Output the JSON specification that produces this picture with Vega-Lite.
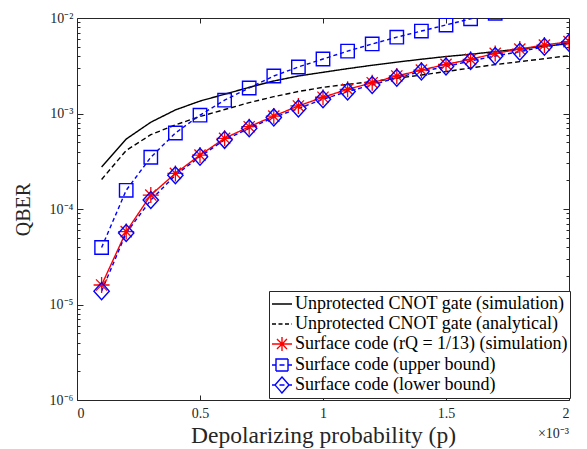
{
  "$schema": "https://vega.github.io/schema/vega-lite/v6.json",
  "width": 492,
  "height": 382,
  "autosize": "none",
  "padding": {"left": 77, "top": 18, "right": 18, "bottom": 49},
  "background": "white",
  "config": {
    "font": "Liberation Serif",
    "view": {"stroke": "#262626", "strokeWidth": 1},
    "axis": {
      "domain": false, "grid": false, "tickColor": "#262626", "tickWidth": 1,
      "labelColor": "#262626", "titleColor": "#262626", "labelFont": "Liberation Serif",
      "titleFont": "Liberation Serif", "labelFontSize": 14, "titleFontWeight": "normal"
    },
    "legend": {
      "orient": "none", "legendX": 192, "legendY": 273,
      "strokeColor": "#262626", "fillColor": "white", "padding": 2,
      "labelFont": "Liberation Serif", "labelFontSize": 18, "labelColor": "black",
      "symbolSize": 400, "symbolStrokeWidth": 1.4, "rowPadding": 0, "labelOffset": 2, "labelLimit": 400
    }
  },
  "datasets": {
    "curves": [
      {"series": "Unprotected CNOT gate (simulation)", "p": 0.0001, "qber": 0.000275},
      {"series": "Unprotected CNOT gate (simulation)", "p": 0.0002, "qber": 0.00054},
      {"series": "Unprotected CNOT gate (simulation)", "p": 0.0003, "qber": 0.00081},
      {"series": "Unprotected CNOT gate (simulation)", "p": 0.0004, "qber": 0.00109},
      {"series": "Unprotected CNOT gate (simulation)", "p": 0.0005, "qber": 0.00135},
      {"series": "Unprotected CNOT gate (simulation)", "p": 0.0006, "qber": 0.00159},
      {"series": "Unprotected CNOT gate (simulation)", "p": 0.0007, "qber": 0.00188},
      {"series": "Unprotected CNOT gate (simulation)", "p": 0.0008, "qber": 0.00219},
      {"series": "Unprotected CNOT gate (simulation)", "p": 0.0009, "qber": 0.00247},
      {"series": "Unprotected CNOT gate (simulation)", "p": 0.0010, "qber": 0.0027},
      {"series": "Unprotected CNOT gate (simulation)", "p": 0.0011, "qber": 0.00295},
      {"series": "Unprotected CNOT gate (simulation)", "p": 0.0012, "qber": 0.0032},
      {"series": "Unprotected CNOT gate (simulation)", "p": 0.0013, "qber": 0.00345},
      {"series": "Unprotected CNOT gate (simulation)", "p": 0.0014, "qber": 0.0037},
      {"series": "Unprotected CNOT gate (simulation)", "p": 0.0015, "qber": 0.00395},
      {"series": "Unprotected CNOT gate (simulation)", "p": 0.0016, "qber": 0.00417},
      {"series": "Unprotected CNOT gate (simulation)", "p": 0.0017, "qber": 0.00445},
      {"series": "Unprotected CNOT gate (simulation)", "p": 0.0018, "qber": 0.00473},
      {"series": "Unprotected CNOT gate (simulation)", "p": 0.0019, "qber": 0.00505},
      {"series": "Unprotected CNOT gate (simulation)", "p": 0.0020, "qber": 0.0054},
      {"series": "Unprotected CNOT gate (analytical)", "p": 0.0001, "qber": 0.000204},
      {"series": "Unprotected CNOT gate (analytical)", "p": 0.0002, "qber": 0.00041},
      {"series": "Unprotected CNOT gate (analytical)", "p": 0.0003, "qber": 0.0006},
      {"series": "Unprotected CNOT gate (analytical)", "p": 0.0004, "qber": 0.00076},
      {"series": "Unprotected CNOT gate (analytical)", "p": 0.0005, "qber": 0.00093},
      {"series": "Unprotected CNOT gate (analytical)", "p": 0.0006, "qber": 0.0011},
      {"series": "Unprotected CNOT gate (analytical)", "p": 0.0007, "qber": 0.0013},
      {"series": "Unprotected CNOT gate (analytical)", "p": 0.0008, "qber": 0.0015},
      {"series": "Unprotected CNOT gate (analytical)", "p": 0.0009, "qber": 0.0017},
      {"series": "Unprotected CNOT gate (analytical)", "p": 0.0010, "qber": 0.00188},
      {"series": "Unprotected CNOT gate (analytical)", "p": 0.0011, "qber": 0.00202},
      {"series": "Unprotected CNOT gate (analytical)", "p": 0.0012, "qber": 0.00216},
      {"series": "Unprotected CNOT gate (analytical)", "p": 0.0013, "qber": 0.00234},
      {"series": "Unprotected CNOT gate (analytical)", "p": 0.0014, "qber": 0.00253},
      {"series": "Unprotected CNOT gate (analytical)", "p": 0.0015, "qber": 0.00275},
      {"series": "Unprotected CNOT gate (analytical)", "p": 0.0016, "qber": 0.003},
      {"series": "Unprotected CNOT gate (analytical)", "p": 0.0017, "qber": 0.00325},
      {"series": "Unprotected CNOT gate (analytical)", "p": 0.0018, "qber": 0.00349},
      {"series": "Unprotected CNOT gate (analytical)", "p": 0.0019, "qber": 0.00375},
      {"series": "Unprotected CNOT gate (analytical)", "p": 0.0020, "qber": 0.00403},
      {"series": "Surface code (rQ = 1/13) (simulation)", "p": 0.0001, "qber": 0.000016},
      {"series": "Surface code (rQ = 1/13) (simulation)", "p": 0.0002, "qber": 0.000058},
      {"series": "Surface code (rQ = 1/13) (simulation)", "p": 0.0003, "qber": 0.00014},
      {"series": "Surface code (rQ = 1/13) (simulation)", "p": 0.0004, "qber": 0.000236},
      {"series": "Surface code (rQ = 1/13) (simulation)", "p": 0.0005, "qber": 0.000367},
      {"series": "Surface code (rQ = 1/13) (simulation)", "p": 0.0006, "qber": 0.00055},
      {"series": "Surface code (rQ = 1/13) (simulation)", "p": 0.0007, "qber": 0.000727},
      {"series": "Surface code (rQ = 1/13) (simulation)", "p": 0.0008, "qber": 0.00094},
      {"series": "Surface code (rQ = 1/13) (simulation)", "p": 0.0009, "qber": 0.0012},
      {"series": "Surface code (rQ = 1/13) (simulation)", "p": 0.0010, "qber": 0.00148},
      {"series": "Surface code (rQ = 1/13) (simulation)", "p": 0.0011, "qber": 0.00179},
      {"series": "Surface code (rQ = 1/13) (simulation)", "p": 0.0012, "qber": 0.0021},
      {"series": "Surface code (rQ = 1/13) (simulation)", "p": 0.0013, "qber": 0.00247},
      {"series": "Surface code (rQ = 1/13) (simulation)", "p": 0.0014, "qber": 0.00285},
      {"series": "Surface code (rQ = 1/13) (simulation)", "p": 0.0015, "qber": 0.00327},
      {"series": "Surface code (rQ = 1/13) (simulation)", "p": 0.0016, "qber": 0.00369},
      {"series": "Surface code (rQ = 1/13) (simulation)", "p": 0.0017, "qber": 0.00426},
      {"series": "Surface code (rQ = 1/13) (simulation)", "p": 0.0018, "qber": 0.00473},
      {"series": "Surface code (rQ = 1/13) (simulation)", "p": 0.0019, "qber": 0.00521},
      {"series": "Surface code (rQ = 1/13) (simulation)", "p": 0.0020, "qber": 0.00565},
      {"series": "Surface code (upper bound)", "p": 0.0001, "qber": 0.0000395},
      {"series": "Surface code (upper bound)", "p": 0.0002, "qber": 0.000157},
      {"series": "Surface code (upper bound)", "p": 0.0003, "qber": 0.000348},
      {"series": "Surface code (upper bound)", "p": 0.0004, "qber": 0.000625},
      {"series": "Surface code (upper bound)", "p": 0.0005, "qber": 0.00096},
      {"series": "Surface code (upper bound)", "p": 0.0006, "qber": 0.00138},
      {"series": "Surface code (upper bound)", "p": 0.0007, "qber": 0.00185},
      {"series": "Surface code (upper bound)", "p": 0.0008, "qber": 0.00247},
      {"series": "Surface code (upper bound)", "p": 0.0009, "qber": 0.00307},
      {"series": "Surface code (upper bound)", "p": 0.0010, "qber": 0.00372},
      {"series": "Surface code (upper bound)", "p": 0.0011, "qber": 0.0045},
      {"series": "Surface code (upper bound)", "p": 0.0012, "qber": 0.00535},
      {"series": "Surface code (upper bound)", "p": 0.0013, "qber": 0.0063},
      {"series": "Surface code (upper bound)", "p": 0.0014, "qber": 0.0073},
      {"series": "Surface code (upper bound)", "p": 0.0015, "qber": 0.00845},
      {"series": "Surface code (upper bound)", "p": 0.0016, "qber": 0.0098},
      {"series": "Surface code (upper bound)", "p": 0.0017, "qber": 0.0112},
      {"series": "Surface code (lower bound)", "p": 0.0001, "qber": 0.0000138},
      {"series": "Surface code (lower bound)", "p": 0.0002, "qber": 0.000056},
      {"series": "Surface code (lower bound)", "p": 0.0003, "qber": 0.000124},
      {"series": "Surface code (lower bound)", "p": 0.0004, "qber": 0.000226},
      {"series": "Surface code (lower bound)", "p": 0.0005, "qber": 0.000353},
      {"series": "Surface code (lower bound)", "p": 0.0006, "qber": 0.00053},
      {"series": "Surface code (lower bound)", "p": 0.0007, "qber": 0.0007},
      {"series": "Surface code (lower bound)", "p": 0.0008, "qber": 0.00091},
      {"series": "Surface code (lower bound)", "p": 0.0009, "qber": 0.00113},
      {"series": "Surface code (lower bound)", "p": 0.0010, "qber": 0.00141},
      {"series": "Surface code (lower bound)", "p": 0.0011, "qber": 0.0017},
      {"series": "Surface code (lower bound)", "p": 0.0012, "qber": 0.00199},
      {"series": "Surface code (lower bound)", "p": 0.0013, "qber": 0.00237},
      {"series": "Surface code (lower bound)", "p": 0.0014, "qber": 0.00275},
      {"series": "Surface code (lower bound)", "p": 0.0015, "qber": 0.0031},
      {"series": "Surface code (lower bound)", "p": 0.0016, "qber": 0.00355},
      {"series": "Surface code (lower bound)", "p": 0.0017, "qber": 0.004},
      {"series": "Surface code (lower bound)", "p": 0.0018, "qber": 0.00444},
      {"series": "Surface code (lower bound)", "p": 0.0019, "qber": 0.005},
      {"series": "Surface code (lower bound)", "p": 0.0020, "qber": 0.0055}
    ]
  },
  "data": {"name": "curves"},
  "resolve": {"axis": {"x": "independent", "y": "independent"}},
  "layer": [
    {
      "mark": {"type": "line", "clip": true, "strokeWidth": 1.4},
      "encoding": {
        "x": {"field": "p", "type": "quantitative",
          "scale": {"domain": [0, 0.002], "nice": false, "zero": false},
          "axis": {"orient": "bottom", "values": [0, 0.0005, 0.001, 0.0015, 0.002],
            "labelExpr": "format(datum.value * 1000, '~g')", "tickSize": -5, "labelPadding": 11,
            "title": "Depolarizing probability (p)", "titleFontSize": 23.5, "titlePadding": 3}},
        "y": {"field": "qber", "type": "quantitative",
          "scale": {"type": "log", "domain": [0.000001, 0.01], "nice": false},
          "axis": {"orient": "left", "values": [0.000001, 0.00001, 0.0001, 0.001, 0.01],
            "labelExpr": "datum.value > 0.005 ? '10⁻²' : datum.value > 0.0005 ? '10⁻³' : datum.value > 0.00005 ? '10⁻⁴' : datum.value > 0.000005 ? '10⁻⁵' : '10⁻⁶'",
            "tickSize": -6, "labelPadding": 10, "title": "QBER", "titleFontSize": 20, "titlePadding": 16}},
        "color": {"field": "series", "type": "nominal",
          "scale": {"domain": ["Unprotected CNOT gate (simulation)", "Unprotected CNOT gate (analytical)", "Surface code (rQ = 1/13) (simulation)", "Surface code (upper bound)", "Surface code (lower bound)"],
            "range": ["black", "black", "#ff0000", "#0000ff", "#0000ff"]},
          "legend": {"title": null,
            "encode": {"symbols": {"update": {
              "shape": {"signal": "datum.value == 'Surface code (rQ = 1/13) (simulation)' ? 'M-1,0L1,0M0,-0.7L0,0.7M-0.5,-0.5L0.5,0.5M-0.5,0.5L0.5,-0.5' : datum.value == 'Surface code (upper bound)' ? 'M-1,0L-0.6,0M0.6,0L1,0M-0.6,-0.6L0.6,-0.6L0.6,0.6L-0.6,0.6ZM-0.25,0L0.25,0' : datum.value == 'Surface code (lower bound)' ? 'M-1,0L-0.7,0M0.7,0L1,0M-0.7,0L0,-0.8L0.7,0L0,0.8ZM-0.25,0L0.25,0' : 'M-1,0L1,0'"},
              "strokeDash": {"signal": "datum.value == 'Unprotected CNOT gate (analytical)' ? [4, 2.5] : [1, 0]"},
              "fill": {"value": "transparent"},
              "size": {"value": 400},
              "strokeWidth": {"value": 1.4}
            }}}}},
        "strokeDash": {
          "condition": [
            {"test": "datum.series == 'Unprotected CNOT gate (analytical)'", "value": [5, 3]},
            {"test": "indexof(datum.series, 'bound') >= 0", "value": [4, 3]}
          ],
          "value": [1, 0]}
      }
    },
    {
      "transform": [{"filter": "datum.series == 'Surface code (rQ = 1/13) (simulation)'"}],
      "mark": {"type": "point", "filled": false, "strokeWidth": 1.3, "clip": true, "color": "#ff0000", "opacity": 1, "size": 256,
        "shape": "M-1,0L1,0M0,-1L0,1M-0.7,-0.7L0.7,0.7M-0.7,0.7L0.7,-0.7"},
      "encoding": {
        "x": {"field": "p", "type": "quantitative",
          "axis": {"orient": "top", "values": [0.0005, 0.001, 0.0015], "labels": false, "tickSize": -5, "title": null}},
        "y": {"field": "qber", "type": "quantitative",
          "axis": {"orient": "right", "values": [0.00001, 0.0001, 0.001], "labels": false, "tickSize": -6, "title": null}}
      }
    },
    {
      "transform": [{"filter": "datum.series == 'Surface code (upper bound)'"}],
      "mark": {"type": "point", "filled": false, "strokeWidth": 1.4, "clip": true, "color": "#0000ff", "opacity": 1, "size": 180, "shape": "square"},
      "encoding": {
        "x": {"field": "p", "type": "quantitative", "axis": null},
        "y": {"field": "qber", "type": "quantitative", "axis": null}
      }
    },
    {
      "transform": [{"filter": "datum.series == 'Surface code (lower bound)'"}],
      "mark": {"type": "point", "filled": false, "strokeWidth": 1.4, "clip": true, "color": "#0000ff", "opacity": 1, "size": 289,
        "shape": "M-0.9,0L0,-1L0.9,0L0,1Z"},
      "encoding": {
        "x": {"field": "p", "type": "quantitative", "axis": null},
        "y": {"field": "qber", "type": "quantitative", "axis": null}
      }
    },
    {
      "mark": {"type": "point", "opacity": 0},
      "encoding": {
        "x": {"field": "p", "type": "quantitative", "axis": null},
        "y": {"field": "qber", "type": "quantitative",
          "axis": {"orient": "left", "values": [0.000002, 0.000003, 0.000004, 0.000005, 0.000006, 0.000007, 0.000008, 0.000009, 0.00002, 0.00003, 0.00004, 0.00005, 0.00006, 0.00007, 0.00008, 0.00009, 0.0002, 0.0003, 0.0004, 0.0005, 0.0006, 0.0007, 0.0008, 0.0009, 0.002, 0.003, 0.004, 0.005, 0.006, 0.007, 0.008, 0.009],
            "labels": false, "tickSize": -3, "title": null}}
      }
    },
    {
      "mark": {"type": "point", "opacity": 0},
      "encoding": {
        "x": {"field": "p", "type": "quantitative", "axis": null},
        "y": {"field": "qber", "type": "quantitative",
          "axis": {"orient": "right", "values": [0.000002, 0.000003, 0.000004, 0.000005, 0.000006, 0.000007, 0.000008, 0.000009, 0.00002, 0.00003, 0.00004, 0.00005, 0.00006, 0.00007, 0.00008, 0.00009, 0.0002, 0.0003, 0.0004, 0.0005, 0.0006, 0.0007, 0.0008, 0.0009, 0.002, 0.003, 0.004, 0.005, 0.006, 0.007, 0.008, 0.009],
            "labels": false, "tickSize": -3, "title": null}}
      }
    },
    {
      "data": {"values": [{"label": "×10⁻³"}]},
      "mark": {"type": "text", "align": "right", "baseline": "middle", "dy": 34, "fontSize": 14, "font": "Liberation Serif", "color": "#262626"},
      "encoding": {
        "x": {"datum": 0.002, "type": "quantitative", "axis": null},
        "y": {"datum": 0.000001, "type": "quantitative", "axis": null},
        "text": {"field": "label", "type": "nominal"}
      }
    }
  ]
}
